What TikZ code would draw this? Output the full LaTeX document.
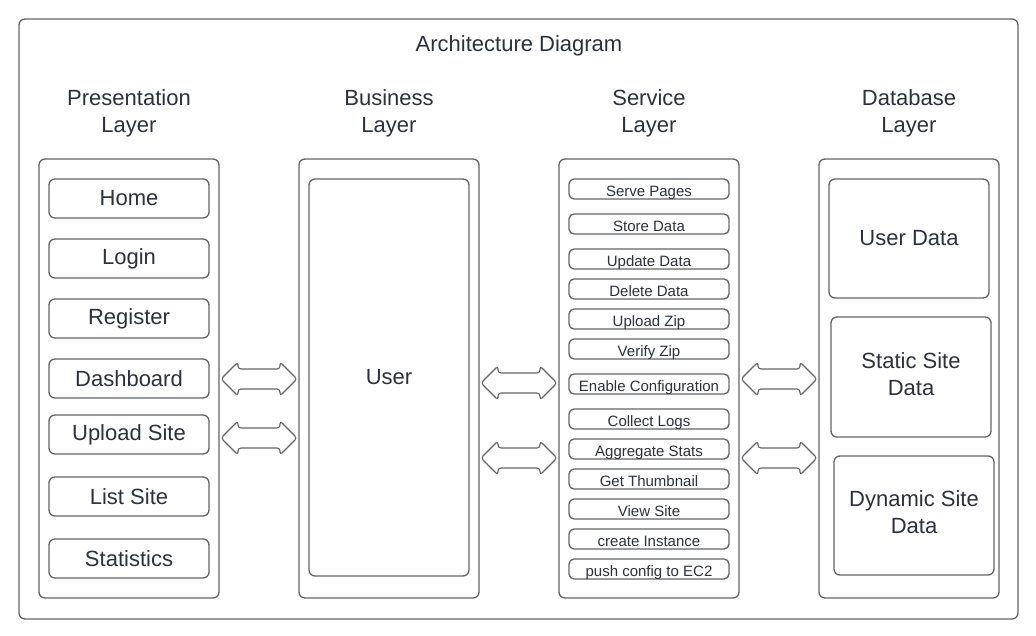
\documentclass[tikz,border=0pt]{standalone}
\usepackage{fontspec}
\setmainfont{Liberation Sans}
\definecolor{linec}{RGB}{98,100,104}
\definecolor{textc}{RGB}{44,50,60}
\newcommand\dbarrow[4]{% name, left x, right x, center y
  \draw[arrowshape] (#2,#4) -- ++(17,-17) -- ++(0,7) -- (#3-17,#4-10) -- ++(0,-7) -- (#3,#4)
    -- ++(-17,17) -- ++(0,-7) -- (#2+17,#4+10) -- ++(0,7) -- cycle;
  \coordinate (#1) at ({(#2+#3)/2},#4);}
\begin{document}
\begin{tikzpicture}[x=1pt,y=-1pt,
  frame/.style={draw=linec,line width=1.3pt,rounded corners=6pt,inner sep=0pt},
  bigtxt/.style={font=\fontsize{22}{27}\selectfont,text=textc,align=center},
  smalltxt/.style={font=\fontsize{15}{18}\selectfont,text=textc,text height=15pt,text depth=0pt},
  colbox/.style={frame,minimum width=180,minimum height=439},
  pbox/.style={frame,bigtxt,minimum width=160,minimum height=39},
  sbox/.style={frame,smalltxt,minimum width=160,minimum height=20,rounded corners=5pt},
  dbox/.style={frame,bigtxt,minimum width=160,minimum height=119},
  arrowshape/.style={draw=linec,line width=1.1pt,rounded corners=3pt,line join=round}]
\useasboundingbox (0,0) rectangle (1036,636);
\fill[white] (0,0) rectangle (1036,636);
\node[frame,minimum width=999,minimum height=600] (outer) at (518.5,319) {};
\node[bigtxt] (title) at (519,46) {Architecture Diagram};
% headings
\node[bigtxt] (hpres) at (129,113.5) {Presentation\\Layer};
\node[bigtxt] (hbus) at (389,113.5) {Business\\Layer};
\node[bigtxt] (hserv) at (649,113.5) {Service\\Layer};
\node[bigtxt] (hdb) at (909,113.5) {Database\\Layer};
% columns
\node[colbox] (pres) at (129,378.5) {};
\node[colbox] (bus) at (389,378.5) {};
\node[colbox] (serv) at (649,378.5) {};
\node[colbox] (db) at (909,378.5) {};
% presentation
\node[pbox] (home) at (129,198.5) {Home};
\node[pbox] (login) at (129,258.5) {Login};
\node[pbox] (register) at (129,318.5) {Register};
\node[pbox] (dashboard) at (129,378.5) {Dashboard};
\node[pbox] (upload) at (129,434.5) {Upload Site};
\node[pbox] (list) at (129,496.5) {List Site};
\node[pbox] (stats) at (129,558.5) {Statistics};
% business
\node[frame,bigtxt,minimum width=160,minimum height=397] (user) at (389,377.5) {User};
% service
\node[sbox] (s1) at (649,189) {Serve Pages};
\node[sbox] (s2) at (649,224) {Store Data};
\node[sbox] (s3) at (649,259) {Update Data};
\node[sbox] (s4) at (649,289) {Delete Data};
\node[sbox] (s5) at (649,319) {Upload Zip};
\node[sbox] (s6) at (649,349) {Verify Zip};
\node[sbox] (s7) at (649,384) {Enable Configuration};
\node[sbox] (s8) at (649,419) {Collect Logs};
\node[sbox] (s9) at (649,449) {Aggregate Stats};
\node[sbox] (s10) at (649,479) {Get Thumbnail};
\node[sbox] (s11) at (649,509) {View Site};
\node[sbox] (s12) at (649,539) {create Instance};
\node[sbox] (s13) at (649,569) {push config to EC2};
% database
\node[dbox] (userdata) at (909,238.5) {User Data};
\node[dbox,minimum height=120] (static) at (911,377) {};
\node[bigtxt] (statictxt) at (911,374) {Static Site\\Data};
\node[dbox] (dynamic) at (914,515.5) {};
\node[bigtxt] (dynamictxt) at (914,512.5) {Dynamic Site\\Data};
% arrows
\dbarrow{a1}{221}{297}{379}
\dbarrow{a2}{221}{297}{438}
\dbarrow{a3}{481}{557}{383}
\dbarrow{a4}{481}{557}{458}
\dbarrow{a5}{741}{817}{379}
\dbarrow{a6}{741}{817}{458}
\end{tikzpicture}
\end{document}
